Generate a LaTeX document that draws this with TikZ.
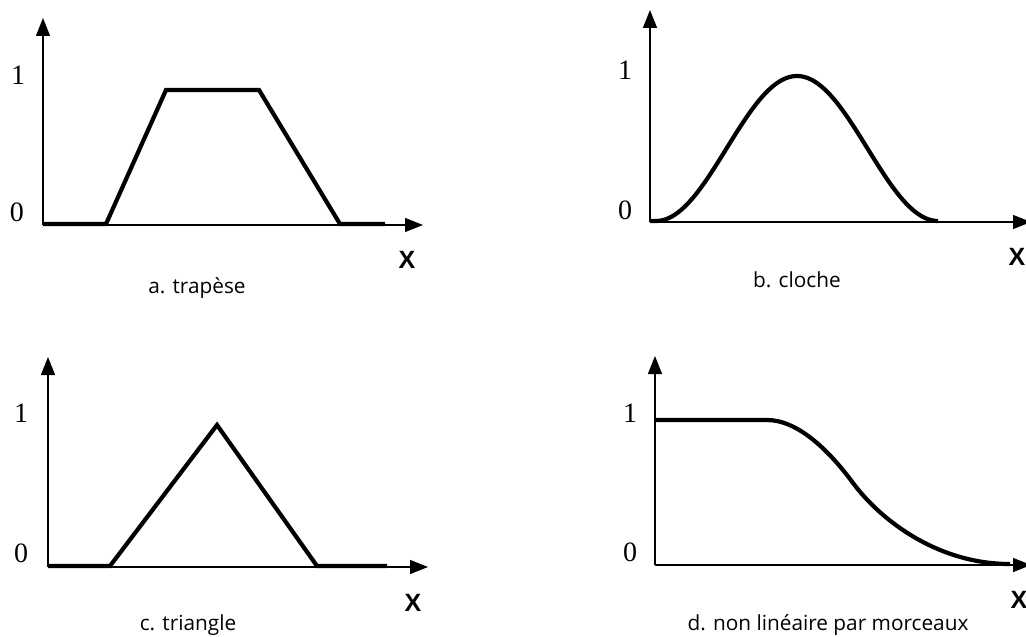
\documentclass[tikz,border=0pt]{standalone}
\usepackage{fontspec}
\setmainfont{Liberation Serif}
\newfontfamily\capfont{Open Sans}
\newfontfamily\axfont{Liberation Sans}
\usepackage{tikz}
\usetikzlibrary{arrows.meta}
\tikzset{
  axis/.style={-{Triangle[length=9pt,width=7pt]},line width=0.7pt},
  mf/.style={line width=2.1pt,line join=miter},
  tick/.style={font=\fontsize{14}{14}\selectfont,inner sep=0pt},
  xlab/.style={font=\axfont\bfseries\fontsize{12.5}{12.5}\selectfont,inner sep=0pt},
  caption/.style={font=\capfont\fontsize{10.4}{11}\selectfont,inner sep=0pt}
}

\begin{document}
\begin{tikzpicture}[x=0.5pt,y=-0.5pt]
\useasboundingbox (0,0) rectangle (1026,636);
% a. trapese
\draw[axis] (43,225) -- (43,18);
\draw[axis] (43,225) -- (423,225);
\draw[mf] (43,224) -- (106,224) -- (166,90) -- (259,90) -- (340,224) -- (385,224);
\node[tick] (a1) at (18,75) {1};
\node[tick] (a0) at (17,212) {0};
\node[xlab] (ax) at (407,260) {X};
\node[caption] (acap) at (197,288) {a. trapèse};
% b. cloche
\draw[axis] (650,222) -- (650,10);
\draw[axis] (650,222) -- (1031,222);
\draw[mf] (650,221) -- (656,221)
  -- plot[domain=656:938,samples=90,smooth] (\x,{221-72.5*(1+cos((\x-797)/141*180))});
\node[tick] (b1) at (625,70) {1};
\node[tick] (b0) at (625,210) {0};
\node[xlab] (bx) at (1017,257) {X};
\node[caption] (bcap) at (797,280) {b. cloche};
% c. triangle
\draw[axis] (48,567) -- (48,357);
\draw[axis] (48,567) -- (428,567);
\draw[mf] (48,566) -- (110,566) -- (217,425) -- (317,566) -- (387,566);
\node[tick] (c1) at (21,413) {1};
\node[tick] (c0) at (21,553) {0};
\node[xlab] (cx) at (413,603) {X};
\node[caption] (ccap) at (188,625) {c. triangle};
% d. non lineaire
\draw[axis] (655,565) -- (655,356);
\draw[axis] (655,565) -- (1031,565);
\draw[mf] (655,420) -- (767,420) .. controls (797,420) and (828,449) .. (853,483)
  .. controls (883,523) and (940,564) .. (1010,564);
\node[tick] (d1) at (630,413) {1};
\node[tick] (d0) at (630,552) {0};
\node[xlab] (dx) at (1019,600) {X};
\node[caption] (dcap) at (828,625) {d. non linéaire par morceaux};
\end{tikzpicture}
\end{document}
